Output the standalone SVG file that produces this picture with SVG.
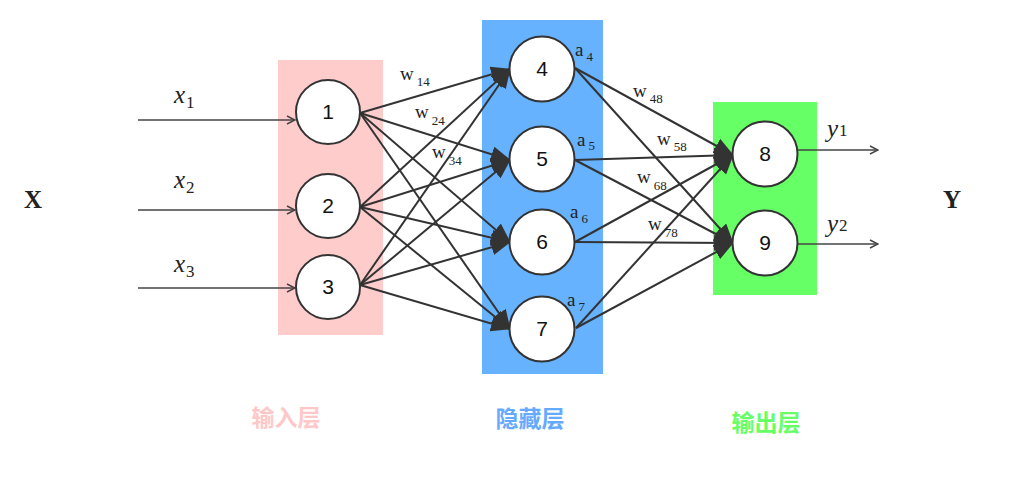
<svg xmlns="http://www.w3.org/2000/svg" width="1025" height="493" viewBox="0 0 1025 493">
<style>
.node circle{fill:#fff;stroke:#333;stroke-width:2}
.node text{font-family:"Liberation Sans",Arial,sans-serif;font-size:21px;fill:#111;text-anchor:middle}
.edge{stroke:#333;stroke-width:2;fill:none;marker-end:url(#tri)}
.io{stroke:#444;stroke-width:1.6;fill:none;marker-end:url(#open)}
.m{font-family:"Liberation Serif","DejaVu Serif",serif;font-style:italic;font-size:25px;fill:#222}
.sub{font-family:"Liberation Serif","DejaVu Serif",serif;font-size:17px;font-style:normal;fill:#222}
.w{font-family:"Liberation Serif","DejaVu Serif",serif;font-size:19px;fill:#222}
.ws{font-family:"Liberation Serif","DejaVu Serif",serif;font-size:13px;fill:#222}
.cap{font-family:"Noto Sans CJK SC","Noto Sans CJK JP",sans-serif;font-size:23px;font-weight:bold;text-anchor:middle}
.big{font-family:"Liberation Serif",serif;font-size:25px;font-weight:bold;fill:#222;text-anchor:middle}
</style>
<defs>
<marker id="tri" viewBox="0 0 20 16" refX="19" refY="8" markerWidth="20" markerHeight="16" markerUnits="userSpaceOnUse" orient="auto">
<path d="M0,0 L20,8 L0,16 z" fill="#333"/>
</marker>
<marker id="open" viewBox="0 0 10 10" refX="9" refY="5" markerWidth="10" markerHeight="10" markerUnits="userSpaceOnUse" orient="auto">
<path d="M1,1 L9,5 L1,9" fill="none" stroke="#444" stroke-width="1.5"/>
</marker>
</defs>
<rect width="1025" height="493" fill="#fff"/>
<g id="layers">
<rect id="input-layer" x="278" y="60" width="105" height="275" fill="#ffcccc"/>
<rect id="hidden-layer" x="482" y="20" width="121" height="354" fill="#66b2ff"/>
<rect id="output-layer" x="713" y="102" width="104" height="193" fill="#66ff66"/>
</g>
<g id="connectors">
<line class="io" x1="138" y1="120" x2="295" y2="120"/>
<line class="io" x1="138" y1="210" x2="295" y2="210"/>
<line class="io" x1="138" y1="288" x2="295" y2="288"/>
<line class="io" x1="798" y1="150" x2="878" y2="150"/>
<line class="io" x1="798" y1="244" x2="878" y2="244"/>
<line class="edge" x1="360" y1="113" x2="510" y2="69"/>
<line class="edge" x1="360" y1="113" x2="510" y2="160"/>
<line class="edge" x1="360" y1="113" x2="510" y2="242"/>
<line class="edge" x1="360" y1="113" x2="510" y2="329"/>
<line class="edge" x1="360" y1="207" x2="510" y2="69"/>
<line class="edge" x1="360" y1="207" x2="510" y2="160"/>
<line class="edge" x1="360" y1="207" x2="510" y2="242"/>
<line class="edge" x1="360" y1="207" x2="510" y2="329"/>
<line class="edge" x1="360" y1="285" x2="510" y2="69"/>
<line class="edge" x1="360" y1="285" x2="510" y2="160"/>
<line class="edge" x1="360" y1="285" x2="510" y2="242"/>
<line class="edge" x1="360" y1="285" x2="510" y2="329"/>
<line class="edge" x1="575" y1="68" x2="733" y2="155"/>
<line class="edge" x1="575" y1="68" x2="733" y2="243"/>
<line class="edge" x1="575" y1="160" x2="733" y2="155"/>
<line class="edge" x1="575" y1="160" x2="733" y2="243"/>
<line class="edge" x1="575" y1="242" x2="733" y2="155"/>
<line class="edge" x1="575" y1="242" x2="733" y2="243"/>
<line class="edge" x1="576" y1="328" x2="733" y2="155"/>
<line class="edge" x1="576" y1="328" x2="733" y2="243"/>
</g>
<g id="n1" class="node"><circle cx="328" cy="112" r="32"/><text x="328" y="119">1</text></g>
<g id="n2" class="node"><circle cx="328" cy="206" r="32"/><text x="328" y="213">2</text></g>
<g id="n3" class="node"><circle cx="328" cy="287" r="32"/><text x="328" y="294">3</text></g>
<g id="n4" class="node"><circle cx="542" cy="69" r="32.5"/><text x="542" y="76">4</text></g>
<g id="n5" class="node"><circle cx="542" cy="159" r="32.5"/><text x="542" y="166">5</text></g>
<g id="n6" class="node"><circle cx="542" cy="242" r="32.5"/><text x="542" y="249">6</text></g>
<g id="n7" class="node"><circle cx="542" cy="329" r="32.5"/><text x="542" y="336">7</text></g>
<g id="n8" class="node"><circle cx="765" cy="154" r="32.5"/><text x="765" y="161">8</text></g>
<g id="n9" class="node"><circle cx="765" cy="243" r="32.5"/><text x="765" y="250">9</text></g>
<g id="labels">
<text class="m" x="174" y="103">x<tspan class="sub" dx="1" dy="5">1</tspan></text>
<text class="m" x="174" y="188">x<tspan class="sub" dx="1" dy="5">2</tspan></text>
<text class="m" x="174" y="272">x<tspan class="sub" dx="1" dy="5">3</tspan></text>
<text class="m" x="827" y="137">y<tspan class="sub" dx="1" dy="-1">1</tspan></text>
<text class="m" x="827" y="232">y<tspan class="sub" dx="1" dy="-1">2</tspan></text>
<text class="big" x="33" y="208">X</text>
<text class="big" x="952" y="208">Y</text>
<text class="w" x="400" y="80">w<tspan class="ws" dx="3" dy="6">14</tspan></text>
<text class="w" x="415" y="118">w<tspan class="ws" dx="3" dy="7">24</tspan></text>
<text class="w" x="432" y="158">w<tspan class="ws" dx="3" dy="7">34</tspan></text>
<text class="w" x="575" y="56">a<tspan class="ws" dx="3" dy="5">4</tspan></text>
<text class="w" x="577" y="146">a<tspan class="ws" dx="3" dy="4">5</tspan></text>
<text class="w" x="570" y="218">a<tspan class="ws" dx="3" dy="5">6</tspan></text>
<text class="w" x="567" y="306">a<tspan class="ws" dx="3" dy="5">7</tspan></text>
<text class="w" x="633" y="97">w<tspan class="ws" dx="3" dy="6">48</tspan></text>
<text class="w" x="657" y="145">w<tspan class="ws" dx="3" dy="6">58</tspan></text>
<text class="w" x="637" y="183">w<tspan class="ws" dx="3" dy="7">68</tspan></text>
<text class="w" x="648" y="230">w<tspan class="ws" dx="3" dy="7">78</tspan></text>
<text class="cap" x="286" y="426" fill="#ffc8c8">输入层</text>
<text class="cap" x="530" y="427" fill="#66aaff">隐藏层</text>
<text class="cap" x="766" y="431" fill="#66ff66">输出层</text>
</g>
</svg>
